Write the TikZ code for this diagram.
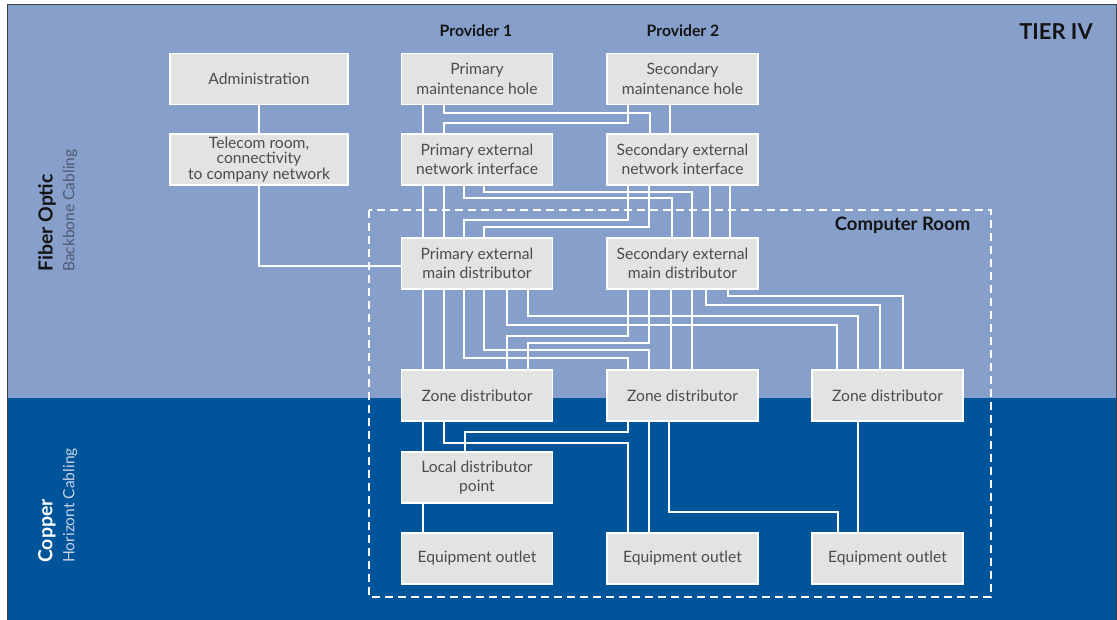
\documentclass[tikz,border=0pt]{standalone}
\usepackage{fontspec}
\setmainfont{Lato}
\definecolor{lightbg}{HTML}{879FCB}
\definecolor{darkbg}{HTML}{00549A}
\definecolor{boxfill}{HTML}{E2E3E3}
\definecolor{boxtext}{HTML}{4C4C4C}
\definecolor{framecol}{HTML}{3A3F4A}
\definecolor{labeldark}{HTML}{141414}
\definecolor{sublight}{HTML}{4E5A72}
\definecolor{subdark}{HTML}{C9D3E6}
\begin{document}
\begin{tikzpicture}[x=1bp,y=-1bp,
  box/.style={draw=white, line width=1.5bp, fill=boxfill, minimum width=151bp, minimum height=51bp,
    inner sep=0pt, outer sep=0pt, align=center, text=boxtext, font=\fontsize{15.7}{19.5}\selectfont},
  widebox/.style={minimum width=178bp},
  cable/.style={draw=white, line width=2bp},
  room/.style={draw=white, line width=2.5bp, dash pattern=on 8bp off 5bp},
  heading/.style={inner sep=0pt, text=labeldark, font=\bfseries\fontsize{15.8}{15.8}\selectfont},
  sidemain/.style={rotate=90, anchor=west, inner sep=0pt, font=\bfseries\fontsize{19.5}{19.5}\selectfont},
  sidesub/.style={rotate=90, anchor=west, inner sep=0pt, font=\fontsize{15.6}{15.6}\selectfont}
]
\useasboundingbox (0,0) rectangle (1117,620);
\fill[lightbg] (7,5) rectangle (1116,398);
\fill[darkbg] (7,398) rectangle (1116,620);
\draw[framecol, line width=1bp] (7,620) -- (7,5) -- (1116,5) -- (1116,620);

% computer room
\draw[room] (369,210) rectangle (991,597);

% labels
\node[heading] (p1) at (476,31) {Provider 1};
\node[heading] (p2) at (683,31) {Provider 2};
\node[heading, font=\bfseries\fontsize{22}{22}\selectfont] (tier) at (1056,32) {TIER IV};
\node[heading, font=\bfseries\fontsize{18.6}{18.6}\selectfont] (cr) at (902.5,225) {Computer Room};
\node[sidemain, text=labeldark] (fo) at (47,272) {Fiber Optic};
\node[sidesub, text=sublight] (bb) at (70,272) {Backbone Cabling};
\node[sidemain, text=white] (cu) at (47,563) {Copper};
\node[sidesub, text=subdark] (hc) at (70,563) {Horizont Cabling};

% boxes
\node[box, widebox] (adm) at (259,79) {Administration};
\node[box, widebox, font=\fontsize{15.7}{15.8}\selectfont] (tel) at (259,159.5) {Telecom room,\\connectivity\\to company network};
\node[box] (pmh) at (477,79) {Primary\\maintenance hole};
\node[box] (smh) at (682.5,79) {Secondary\\maintenance hole};
\node[box] (peni) at (477,159.5) {Primary external\\network interface};
\node[box] (seni) at (682.5,159.5) {Secondary external\\network interface};
\node[box] (pemd) at (477,263.5) {Primary external\\main distributor};
\node[box] (semd) at (682.5,263.5) {Secondary external\\main distributor};
\node[box] (zd1) at (477,395.5) {Zone distributor};
\node[box] (zd2) at (682.5,395.5) {Zone distributor};
\node[box] (zd3) at (887.5,395.5) {Zone distributor};
\node[box] (ldp) at (477,477.5) {Local distributor\\point};
\node[box] (eo1) at (477,558.5) {Equipment outlet};
\node[box] (eo2) at (682.5,558.5) {Equipment outlet};
\node[box] (eo3) at (887.5,558.5) {Equipment outlet};

% admin / telecom
\draw[cable] (adm) -- (tel);
\draw[cable] (tel.south) |- (pemd.west |- 0,266);

% maintenance holes -> network interfaces
\draw[cable] (423,0 |- pmh.south) -- (423,0 |- peni.north);
\draw[cable] (444,0 |- pmh.south) |- (650,113) -- (650,0 |- seni.north);
\draw[cable] (628,0 |- smh.south) |- (444,123) -- (444,0 |- peni.north);
\draw[cable] (670,0 |- smh.south) -- (670,0 |- seni.north);

% network interfaces -> main distributors
\draw[cable] (423,0 |- peni.south) -- (423,0 |- pemd.north);
\draw[cable] (444,0 |- peni.south) -- (444,0 |- pemd.north);
\draw[cable] (464,0 |- peni.south) |- (672,198) -- (672,0 |- semd.north);
\draw[cable] (484,0 |- peni.south) |- (692,192) -- (692,0 |- semd.north);
\draw[cable] (628,0 |- seni.south) |- (464,220) -- (464,0 |- pemd.north);
\draw[cable] (649,0 |- seni.south) |- (484,227) -- (484,0 |- pemd.north);
\draw[cable] (710,0 |- seni.south) -- (710,0 |- semd.north);
\draw[cable] (730,0 |- seni.south) -- (730,0 |- semd.north);

% main distributors -> zone distributors
\draw[cable] (423,0 |- pemd.south) -- (423,0 |- zd1.north);
\draw[cable] (444,0 |- pemd.south) -- (444,0 |- zd1.north);
\draw[cable] (464,0 |- pemd.south) |- (628,358) -- (628,0 |- zd2.north);
\draw[cable] (484,0 |- pemd.south) |- (649,350) -- (649,0 |- zd2.north);
\draw[cable] (507,0 |- pemd.south) |- (837,325) -- (837,0 |- zd3.north);
\draw[cable] (528,0 |- pemd.south) |- (858,316) -- (858,0 |- zd3.north);
\draw[cable] (628,0 |- semd.south) |- (507,336) -- (507,0 |- zd1.north);
\draw[cable] (649,0 |- semd.south) |- (528,343) -- (528,0 |- zd1.north);
\draw[cable] (671,0 |- semd.south) -- (671,0 |- zd2.north);
\draw[cable] (692,0 |- semd.south) -- (692,0 |- zd2.north);
\draw[cable] (706,0 |- semd.south) |- (880,305) -- (880,0 |- zd3.north);
\draw[cable] (728,0 |- semd.south) |- (903,296) -- (903,0 |- zd3.north);

% zone distributors -> local distributor / outlets
\draw[cable] (423,0 |- zd1.south) -- (423,0 |- ldp.north);
\draw[cable] (444,0 |- zd1.south) |- (628,443) -- (628,0 |- eo2.north);
\draw[cable] (628,0 |- zd2.south) |- (465,432) -- (465,0 |- ldp.north);
\draw[cable] (649,0 |- zd2.south) -- (649,0 |- eo2.north);
\draw[cable] (669,0 |- zd2.south) |- (838,512) -- (838,0 |- eo3.north);
\draw[cable] (858,0 |- zd3.south) -- (858,0 |- eo3.north);
\draw[cable] (423,0 |- ldp.south) -- (423,0 |- eo1.north);
\end{tikzpicture}
\end{document}
